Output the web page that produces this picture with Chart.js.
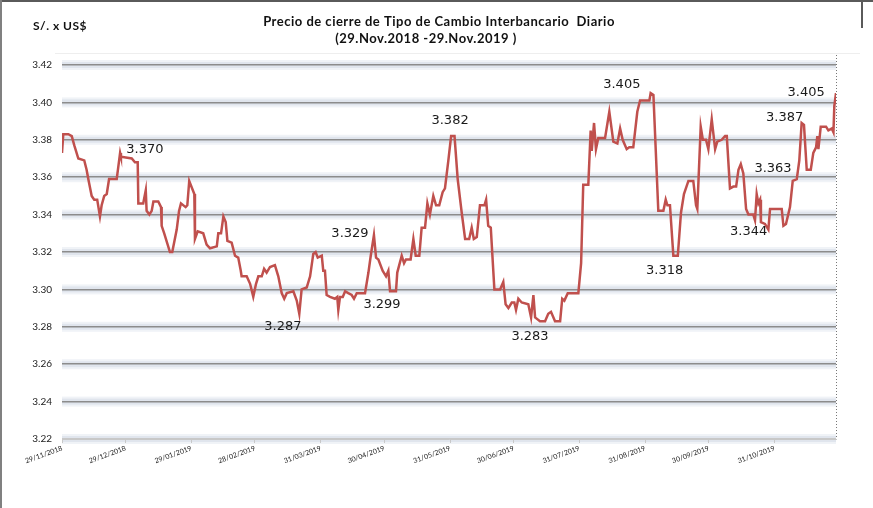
<!DOCTYPE html>
<html lang="es">
<head>
<meta charset="utf-8">
<title>Tipo de Cambio Interbancario</title>
<script src="https://cdn.jsdelivr.net/npm/chart.js@4.4.1/dist/chart.umd.min.js"></script>
<style>
  html, body { margin: 0; padding: 0; background: #fff; }
  #wrap { position: relative; width: 873px; height: 508px; overflow: hidden; }
</style>
</head>
<body>
<div id="wrap"><canvas id="tcChart" width="873" height="508"></canvas></div>
<script>
(function () {
  'use strict';

  // días transcurridos desde el 29/11/2018
  var dias = [
    0, 0.6, 3.0, 4.6, 5.8, 7.7, 10.5, 11.6, 12.4, 14.0,
    15.2, 16.6, 17.9, 18.7, 19.9, 21.1, 22.2, 25.8, 27.4, 27.8,
    32.9, 34.4, 35.7, 36.0, 38.3, 39.5, 39.9, 41.2, 42.3, 43.1,
    45.4, 46.7, 47.0, 48.2, 50.9, 52.0, 54.1, 55.2, 56.1, 58.3,
    59.1, 60.0, 62.4, 62.7, 64.0, 66.6, 68.2, 69.8, 73.0, 73.7,
    75.0, 76.1, 77.2, 78.0, 80.0, 81.6, 83.1, 84.3, 84.7, 87.1,
    88.7, 90.2, 91.5, 92.6, 94.2, 95.3, 96.5, 98.1, 100.4, 102.0,
    103.6, 104.8, 106.0, 109.1, 110.7, 111.9, 113.0, 115.4, 117.0, 118.5,
    119.6, 120.6, 122.5, 123.2, 124.0, 124.8, 126.4, 128.7, 129.8, 130.3,
    131.1, 132.4, 133.5, 135.0, 136.6, 137.7, 139.0, 142.9, 144.5, 145.6,
    147.1, 148.1, 149.2, 151.2, 152.8, 153.9, 154.7, 157.5, 158.1, 160.2,
    161.3, 162.2, 164.4, 165.7, 166.8, 168.5, 169.6, 171.2, 172.3, 173.5,
    175.1, 176.4, 177.9, 179.5, 180.6, 182.2, 183.5, 185.1, 186.6, 188.5,
    190.1, 192.0, 193.2, 194.2, 195.6, 197.1, 199.2, 200.0, 201.0, 202.2,
    203.9, 206.6, 208.1, 209.2, 210.5, 212.1, 213.3, 214.1, 215.2, 216.8,
    219.9, 221.2, 222.3, 223.1, 225.4, 227.8, 229.3, 230.6, 232.5, 234.9,
    235.9, 236.9, 238.5, 243.5, 244.8, 245.8, 248.2, 249.3, 249.8, 250.9,
    251.8, 252.9, 256.1, 258.1, 260.0, 261.9, 263.2, 264.4, 266.3, 267.5,
    269.4, 271.3, 272.6, 277.0, 277.6, 278.9, 281.2, 283.6, 284.7, 285.5,
    286.7, 288.3, 290.4, 291.9, 293.3, 295.4, 297.7, 299.0, 299.6, 301.2,
    302.2, 303.7, 304.8, 306.4, 308.0, 309.0, 311.1, 312.7, 313.5, 315.0,
    316.6, 317.9, 319.0, 320.1, 321.3, 322.6, 323.7, 326.0, 326.8, 327.6,
    328.4, 329.2, 329.6, 331.5, 333.1, 333.9, 335.5, 339.4, 340.2, 341.4,
    343.3, 344.6, 346.5, 347.7, 348.8, 349.9, 351.2, 353.1, 354.3, 355.6,
    356.2, 356.7, 357.8, 360.3, 361.4, 363.0, 363.8, 364.2, 365
  ];

  // precio de cierre S/. x US$
  var tipoCambio = [
    3.373, 3.383, 3.383, 3.382, 3.377, 3.370, 3.369, 3.364, 3.359, 3.350,
    3.348, 3.348, 3.339, 3.345, 3.350, 3.351, 3.359, 3.359, 3.373, 3.371,
    3.370, 3.368, 3.368, 3.346, 3.346, 3.353, 3.342, 3.340, 3.342, 3.347,
    3.347, 3.344, 3.334, 3.330, 3.320, 3.320, 3.332, 3.342, 3.346, 3.344,
    3.345, 3.358, 3.351, 3.327, 3.331, 3.330, 3.324, 3.322, 3.323, 3.330,
    3.330, 3.339, 3.336, 3.326, 3.325, 3.318, 3.317, 3.310, 3.307, 3.307,
    3.303, 3.296, 3.303, 3.307, 3.307, 3.311, 3.309, 3.312, 3.313, 3.307,
    3.298, 3.295, 3.298, 3.299, 3.294, 3.287, 3.300, 3.301, 3.307, 3.319,
    3.320, 3.317, 3.318, 3.310, 3.310, 3.297, 3.296, 3.295, 3.296, 3.289,
    3.296, 3.296, 3.299, 3.298, 3.297, 3.295, 3.298, 3.298, 3.309, 3.318,
    3.329, 3.317, 3.316, 3.310, 3.307, 3.310, 3.299, 3.299, 3.309, 3.318,
    3.314, 3.316, 3.316, 3.327, 3.318, 3.318, 3.333, 3.333, 3.346, 3.340,
    3.350, 3.345, 3.345, 3.352, 3.354, 3.369, 3.382, 3.382, 3.359, 3.341,
    3.327, 3.327, 3.333, 3.327, 3.328, 3.345, 3.345, 3.348, 3.334, 3.333,
    3.300, 3.300, 3.304, 3.292, 3.290, 3.293, 3.293, 3.289, 3.295, 3.293,
    3.292, 3.285, 3.297, 3.285, 3.283, 3.283, 3.287, 3.288, 3.283, 3.283,
    3.295, 3.294, 3.298, 3.298, 3.314, 3.356, 3.356, 3.385, 3.374, 3.389,
    3.375, 3.381, 3.381, 3.395, 3.379, 3.378, 3.386, 3.380, 3.375, 3.376,
    3.376, 3.395, 3.401, 3.401, 3.405, 3.404, 3.342, 3.342, 3.348, 3.345,
    3.345, 3.318, 3.318, 3.341, 3.351, 3.358, 3.358, 3.345, 3.343, 3.387,
    3.380, 3.380, 3.375, 3.391, 3.375, 3.379, 3.380, 3.382, 3.382, 3.354,
    3.355, 3.355, 3.364, 3.367, 3.362, 3.343, 3.340, 3.340, 3.337, 3.351,
    3.346, 3.348, 3.336, 3.335, 3.332, 3.343, 3.343, 3.343, 3.334, 3.335,
    3.344, 3.358, 3.359, 3.369, 3.389, 3.388, 3.364, 3.364, 3.373, 3.376,
    3.382, 3.375, 3.387, 3.387, 3.385, 3.386, 3.384, 3.398, 3.405
  ];

  var tickDias = [0, 30, 61, 91, 122, 152, 183, 213, 244, 275, 305, 336];
  var tickEtiquetas = [
    '29/11/2018', '29/12/2018', '29/01/2019', '28/02/2019', '31/03/2019', '30/04/2019',
    '31/05/2019', '30/06/2019', '31/07/2019', '31/08/2019', '30/09/2019', '31/10/2019'
  ];

  // etiquetas de valores destacados (texto, día y nivel donde se escriben)
  var notasTexto = ['3.370', '3.287', '3.329', '3.299', '3.382', '3.283',
                    '3.405', '3.318', '3.344', '3.363', '3.387', '3.405'];
  var notasDia = [39.1, 104.2, 135.8, 150.9, 183.0, 220.7, 264.0, 284.2, 323.8, 335.3, 340.8, 350.9];
  var notasValor = [3.375, 3.280, 3.3296, 3.2916, 3.390, 3.2745, 3.4096, 3.3098, 3.3307, 3.3644, 3.3916, 3.405];

  var puntos = dias.map(function (d, i) {
    return { x: d, y: tipoCambio[i] };
  });

  // ── Extras: marco, halos de la grilla, títulos y etiquetas ─────────────────
  var extras = {
    id: 'extras',
    beforeDraw: function (chart) {
      var ctx = chart.ctx;
      var area = chart.chartArea;
      var y = chart.scales.y;
      ctx.save();
      // marco del recuadro
      ctx.fillStyle = '#5a5a5a';
      ctx.fillRect(0, 0, chart.width, 2);
      ctx.fillStyle = '#808080';
      ctx.fillRect(0, 0, 2, chart.height);
      ctx.fillStyle = '#5a5a5a';
      ctx.fillRect(861, 0, 2, 28);
      ctx.fillStyle = '#eeeeee';
      ctx.fillRect(55, 53, 805, 1);
      // halo suave alrededor de las líneas de la grilla
      y.ticks.forEach(function (t) {
        var py = y.getPixelForValue(t.value);
        ctx.fillStyle = 'rgba(222,228,238,0.45)';
        ctx.fillRect(area.left, py - 5, area.right - area.left, 10);
        ctx.fillStyle = 'rgba(205,213,226,0.45)';
        ctx.fillRect(area.left, py - 3, area.right - area.left, 6);
      });
      ctx.restore();
    },
    afterDatasetsDraw: function (chart) {
      var ctx = chart.ctx;
      var area = chart.chartArea;
      var x = chart.scales.x;
      var y = chart.scales.y;
      ctx.save();
      ctx.strokeStyle = '#777777';
      ctx.lineWidth = 1;
      ctx.setLineDash([1, 2]);
      ctx.beginPath();
      ctx.moveTo(area.right + 0.5, 55);
      ctx.lineTo(area.right + 0.5, area.bottom);
      ctx.stroke();
      ctx.setLineDash([]);

      ctx.fillStyle = '#1a1a1a';
      ctx.font = '13px "DejaVu Sans"';
      ctx.textAlign = 'center';
      ctx.textBaseline = 'middle';
      notasTexto.forEach(function (txt, i) {
        ctx.fillText(txt, x.getPixelForValue(notasDia[i]), y.getPixelForValue(notasValor[i]));
      });
      ctx.restore();
    },
    afterDraw: function (chart) {
      var ctx = chart.ctx;
      ctx.save();
      ctx.fillStyle = '#111111';
      ctx.textBaseline = 'middle';
      ctx.letterSpacing = '0.5px';
      ctx.font = 'bold 12px Lato';
      ctx.textAlign = 'left';
      ctx.fillText('S/. x US$', 33, 26);
      ctx.font = 'bold 13px Lato';
      ctx.textAlign = 'center';
      ctx.fillText('Precio de cierre de Tipo de Cambio Interbancario  Diario', 439, 22);
      ctx.fillText('(29.Nov.2018 -29.Nov.2019 )', 426, 39);
      ctx.restore();
    }
  };

  new Chart(document.getElementById('tcChart'), {
    type: 'line',
    data: {
      datasets: [{
        data: puntos,
        borderColor: '#c0504d',
        borderWidth: 2.5,
        pointRadius: 0,
        tension: 0,
        fill: false
      }]
    },
    options: {
      responsive: false,
      animation: false,
      events: [],
      layout: { padding: { top: 65, left: 0, right: 37, bottom: 0 } },
      plugins: {
        legend: { display: false },
        title: { display: false },
        tooltip: { enabled: false }
      },
      scales: {
        x: {
          type: 'linear',
          min: 0,
          max: 365,
          afterFit: function (scale) { scale.height = 69; },
          afterBuildTicks: function (scale) {
            scale.ticks = tickDias.map(function (d) { return { value: d }; });
          },
          ticks: {
            autoSkip: false,
            minRotation: 20,
            maxRotation: 20,
            padding: 1,
            color: '#222222',
            font: { family: 'Lato', size: 7 },
            callback: function (value) {
              var i = tickDias.indexOf(value);
              return i >= 0 ? tickEtiquetas[i] : '';
            }
          },
          grid: {
            drawOnChartArea: false,
            drawTicks: true,
            tickLength: 4,
            color: '#c8c8c8'
          },
          border: { display: true, color: '#c8c8c8', width: 1 }
        },
        y: {
          min: 3.22,
          max: 3.42,
          afterFit: function (scale) { scale.width = 62; },
          ticks: {
            stepSize: 0.02,
            padding: 10,
            color: '#222222',
            font: { family: 'Lato', size: 10 },
            callback: function (value) { return value.toFixed(2); }
          },
          grid: {
            drawTicks: false,
            lineWidth: 1.5,
            color: function (c) {
              return c.tick && Math.abs(c.tick.value - 3.22) < 1e-6 ? '#c8c8c8' : '#8c8c8c';
            }
          },
          border: { display: false }
        }
      }
    },
    plugins: [extras]
  });

}());
</script>
</body>
</html>
